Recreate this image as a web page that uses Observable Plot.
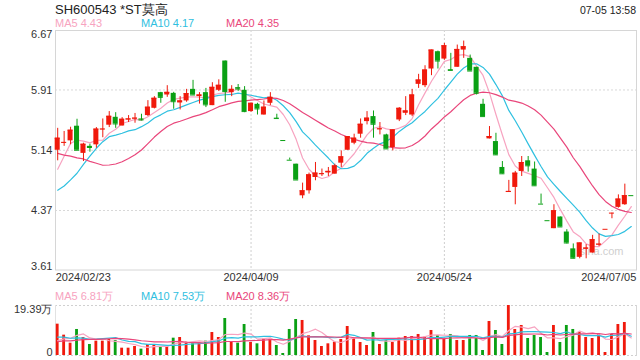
<!DOCTYPE html>
<html><head><meta charset="utf-8">
<script src="https://cdn.jsdelivr.net/npm/d3@7"></script>
<script src="https://cdn.jsdelivr.net/npm/@observablehq/plot@0.6"></script>
<style>
body{margin:0;background:#fff;}
#wrap{position:relative;width:640px;height:360px;font-family:"Liberation Sans",Arial,sans-serif;overflow:hidden;background:#fff;}
.abs{position:absolute;white-space:nowrap;line-height:1;}
.panel{position:absolute;left:0;}
</style></head><body>
<div id="wrap"></div>
<script>
// ---- data ----
const title = "SH600543 *ST莫高";
const stamp = "07-05 13:58";
const dateLabels = ["2024/02/23","2024/04/09","2024/05/24","2024/07/05"];
const dateIndex = [0,30,60,89];
const priceTicks = [3.61,4.37,5.14,5.91,6.67];
const volTicks = [0,19.39];
const volTickLabels = ["0","19.39万"];
const maNames = ["MA5","MA10","MA20"];
const maPeriods = [5,10,20];
const maPriceLegend = ["4.43","4.17","4.35"];
const maVolLegend = ["6.81万","7.53万","8.36万"];

const open = [5.14,5.235,5.26,5.447,5.10,5.19,5.209,5.405,5.46,5.561,
5.45,5.527,5.54,5.54,5.583,5.676,5.876,5.846,5.867,5.744,
5.77,5.918,5.825,5.876,5.71,5.906,6.28,5.876,5.94,5.906,
5.634,5.727,5.59,5.74,5.55,5.264,5.013,4.962,4.558,4.622,
4.792,4.83,4.85,4.835,4.975,5.14,5.23,5.345,5.506,5.57,
5.404,5.336,5.175,5.527,5.612,5.59,5.982,5.965,6.178,6.399,
6.305,6.17,6.2,6.42,6.314,6.2,5.727,5.285,5.251,4.92,
4.6,4.665,4.869,5.005,4.899,4.452,4.24,4.138,4.287,4.095,
3.88,3.772,3.876,3.827,3.93,4.13,4.337,4.41,4.444,4.56];
const high = [5.42,5.38,5.434,5.536,5.23,5.217,5.43,5.54,5.634,5.62,
5.557,5.583,5.61,5.6,5.774,5.825,5.88,5.965,5.88,5.825,
5.918,6.033,5.876,5.93,6.003,6.04,6.28,5.965,5.98,5.953,
5.74,5.74,5.77,5.876,5.6,5.264,5.04,4.962,4.72,4.848,
4.984,4.9,4.92,4.962,5.132,5.315,5.345,5.54,5.634,5.642,
5.494,5.345,5.4,5.685,5.825,5.918,6.11,6.22,6.42,6.407,
6.505,6.378,6.484,6.535,6.356,6.2,5.791,5.443,5.357,4.996,
4.755,4.87,5.06,5.06,4.99,4.58,4.24,4.444,4.287,4.125,
3.943,3.955,3.934,4.053,4.07,4.13,4.337,4.57,4.707,4.56];
const low = [5.005,5.19,5.21,5.14,4.996,5.115,5.166,5.30,5.43,5.42,
5.45,5.494,5.485,5.515,5.57,5.668,5.74,5.816,5.664,5.655,
5.753,5.846,5.73,5.685,5.71,5.89,5.753,5.825,5.89,5.62,
5.625,5.59,5.59,5.71,5.545,5.264,5.013,4.76,4.52,4.58,
4.75,4.805,4.805,4.835,4.92,5.14,5.21,5.294,5.464,5.294,
5.336,5.157,5.132,5.506,5.583,5.57,5.93,5.94,6.093,6.178,
6.29,6.16,6.2,6.314,6.152,5.846,5.57,5.285,5.073,4.835,
4.6,4.443,4.805,4.86,4.686,4.452,4.24,4.138,4.16,3.943,
3.753,3.753,3.753,3.827,3.91,4.13,4.265,4.4,4.436,4.56];
const close = [5.294,5.24,5.396,5.14,5.217,5.175,5.41,5.41,5.574,5.476,
5.536,5.54,5.55,5.527,5.69,5.804,5.816,5.88,5.76,5.77,
5.863,5.846,5.846,5.72,5.944,5.97,5.89,5.918,5.923,5.634,
5.74,5.668,5.69,5.816,5.545,5.264,5.013,4.76,4.622,4.826,
4.848,4.84,4.87,4.94,5.056,5.315,5.294,5.472,5.55,5.472,
5.413,5.157,5.4,5.676,5.642,5.846,6.037,6.165,6.42,6.28,
6.475,6.16,6.428,6.462,6.152,5.868,5.57,5.315,5.081,4.839,
4.614,4.847,4.983,4.941,4.686,4.452,4.24,4.367,4.16,3.955,
3.76,3.955,3.89,3.997,3.94,4.13,4.337,4.516,4.56,4.56];
// volume in 万 shares
const volume = [12.15,7.89,4.78,10.09,6.98,4.27,5.56,5.56,6.21,5.82,
2.84,2.84,3.49,2.46,4.27,4.27,3.23,3.49,6.72,6.98,
5.17,4.53,4.91,5.56,8.92,6.98,14.35,5.43,4.78,12.02,
5.04,4.53,6.34,6.34,3.88,0.78,10.09,13.96,13.58,7.63,
5.82,3.49,4.53,5.17,6.21,11.25,6.72,5.04,3.88,8.92,
4.27,5.82,5.04,6.72,7.37,7.37,8.15,7.11,9.70,7.76,
6.59,8.15,5.82,5.82,7.76,7.76,1.94,13.19,9.70,4.27,
19.39,10.09,11.64,6.59,7.76,6.98,1.16,11.64,5.04,11.64,
10.09,8.92,6.98,6.59,8.15,1.16,8.15,12.02,12.80,0];
const priorClose = [5.68,5.66,5.58,5.48,5.80,5.88,5.92,5.52,5.22,4.95,4.70,4.62,4.29,4.07,4.13,4.41,4.57,4.93,5.28];
const priorVolume = [3.2,4.1,3.5,3.9,3.0,4.4,3.6,3.8,3.3,4.2,7.5,9.2,8.8,7.9,8.6,4.6,3.9,4.1,4.25];

// ---- styling ----
const RED = "#f0190c", GREEN = "#0aa014";
const MA_COLORS = ["#f7a3c0","#2fc0e0","#e9467b"];
const FONT = "'Liberation Sans', Arial, sans-serif";

function movingAvg(series, prior, n) {
  const all = prior.concat(series);
  return series.map((_, i) => {
    const j = i + prior.length;
    return d3.mean(all.slice(j - n + 1, j + 1));
  });
}

const rows = close.map((c, i) => {
  const o = open[i];
  const prev = i > 0 ? close[i-1] : priorClose[priorClose.length-1];
  const up = c > o || (c === o && c > prev);
  return {i, o, h: high[i], l: low[i], c, v: volume[i], col: up ? RED : GREEN};
});

const priceMA = maPeriods.map((n, k) => movingAvg(close, priorClose, n).map((y, i) => ({i, y, k})));
const volMA = maPeriods.map((n, k) => movingAvg(volume, priorVolume, n).map((y, i) => ({i, y, k})));

const xDomain = [-0.34, 89.81];
const HALF_BODY = 0.39, HALF_BAR = 0.22;

const wrap = document.getElementById("wrap");

// ---- price panel ----
const price = Plot.plot({
  width: 640, height: 285,
  marginTop: 30, marginBottom: 15.5, marginLeft: 55, marginRight: 4,
  style: {fontFamily: FONT, fontSize: "11px", color: "#333", background: "transparent"},
  x: {domain: xDomain, axis: null},
  y: {domain: [priceTicks[0], priceTicks[priceTicks.length-1]], axis: null},
  color: {type: "identity"},
  marks: [
    Plot.ruleY(priceTicks.slice(1, -1), {stroke: "#d8d8d8", strokeDasharray: "2,2"}),
    Plot.ruleX(dateIndex.slice(1, -1), {stroke: "#cfcfcf", strokeDasharray: "2,2"}),
    Plot.frame({stroke: "#d6d6d6"}),
    Plot.text(["sina.com"], {frameAnchor: "bottom-right", textAnchor: "end", lineAnchor: "bottom", dx: -13, dy: -15, fill: "#cfcfcf", fontSize: 11}),
    // MA lines
    ...priceMA.map((d, k) => Plot.line(d, {x: "i", y: "y", stroke: MA_COLORS[k], strokeWidth: 1.2})),
    // candles
    Plot.ruleX(rows, {x: "i", y1: "l", y2: "h", stroke: "col", strokeWidth: 1}),
    Plot.rect(rows, {x1: d => d.i - HALF_BODY, x2: d => d.i + HALF_BODY, y1: d => Math.min(d.o, d.c), y2: d => Math.max(d.o, d.c), fill: "col"}),
    Plot.ruleY(rows, {x1: d => d.i - HALF_BODY, x2: d => d.i + HALF_BODY, y: "c", stroke: "col"}),
    // y labels
    Plot.text([priceTicks[priceTicks.length-1]], {frameAnchor: "left", y: d => d, text: d => d.toFixed(2), textAnchor: "end", lineAnchor: "top", dx: -3, dy: 0, fill: "#333"}),
    Plot.text(priceTicks.slice(1, -1), {frameAnchor: "left", y: d => d, text: d => d.toFixed(2), textAnchor: "end", lineAnchor: "middle", dx: -3, fill: "#333"}),
    Plot.text([priceTicks[0]], {frameAnchor: "left", y: d => d, text: d => d.toFixed(2), textAnchor: "end", lineAnchor: "bottom", dx: -3, dy: 0, fill: "#333"}),
    // date labels
    Plot.text([0], {x: d => dateIndex[d], y: priceTicks[0], text: d => dateLabels[d], textAnchor: "start", lineAnchor: "top", dx: -2, dy: 3, fill: "#333"}),
    Plot.text([1, 2], {x: d => dateIndex[d], y: priceTicks[0], text: d => dateLabels[d], textAnchor: "middle", lineAnchor: "top", dy: 3, fill: "#333"}),
    Plot.text([3], {x: d => dateIndex[d], y: priceTicks[0], text: d => dateLabels[d], textAnchor: "end", lineAnchor: "top", dx: 5, dy: 3, fill: "#333"})
  ]
});

// ---- volume panel ----
const vol = Plot.plot({
  width: 640, height: 75,
  marginTop: 20, marginBottom: 5, marginLeft: 55, marginRight: 4,
  style: {fontFamily: FONT, fontSize: "11px", color: "#333", background: "transparent"},
  x: {domain: xDomain, axis: null},
  y: {domain: [volTicks[0], volTicks[1]], axis: null},
  color: {type: "identity"},
  marks: [
    Plot.ruleX(dateIndex.slice(1, -1), {stroke: "#cfcfcf", strokeDasharray: "2,2"}),
    Plot.ruleY(volTicks, {stroke: "#d0d0d0", strokeDasharray: "2,2"}),
    Plot.frame({anchor: "right", stroke: "#d6d6d6"}),
    Plot.frame({anchor: "left", stroke: "#e2e2e2"}),
    Plot.rect(rows, {x1: d => d.i - HALF_BAR, x2: d => d.i + HALF_BAR, y1: 0, y2: "v", fill: "col"}),
    ...volMA.map((d, k) => Plot.line(d, {x: "i", y: "y", stroke: MA_COLORS[k], strokeWidth: 1.2})),
    Plot.text([1], {frameAnchor: "left", y: d => volTicks[d], text: d => volTickLabels[d], textAnchor: "end", lineAnchor: "top", dx: -3, fill: "#333"}),
    Plot.text([0], {frameAnchor: "left", y: d => volTicks[d], text: d => volTickLabels[d], textAnchor: "end", lineAnchor: "bottom", dx: -3, fill: "#333"})
  ]
});

const p1 = document.createElement("div"); p1.className = "panel"; p1.style.top = "0px"; p1.appendChild(price); wrap.appendChild(p1);
const p2 = document.createElement("div"); p2.className = "panel"; p2.style.top = "285px"; p2.appendChild(vol); wrap.appendChild(p2);

function addText(txt, css) {
  const d = document.createElement("div");
  d.className = "abs"; d.textContent = txt;
  Object.assign(d.style, css);
  wrap.appendChild(d);
  return d;
}
addText(title, {left: "55px", top: "3px", fontSize: "13px", color: "#222"});
addText(stamp, {right: "4px", top: "5px", fontSize: "10.5px", color: "#222"});
const legendX = [55, 141, 226];
maNames.forEach((n, k) => {
  addText(n + " " + maPriceLegend[k], {left: legendX[k] + "px", top: "18px", fontSize: "11px", color: MA_COLORS[k]});
  addText(n + " " + maVolLegend[k], {left: legendX[k] + "px", top: "291px", fontSize: "11px", color: MA_COLORS[k]});
});
</script>
</body></html>
